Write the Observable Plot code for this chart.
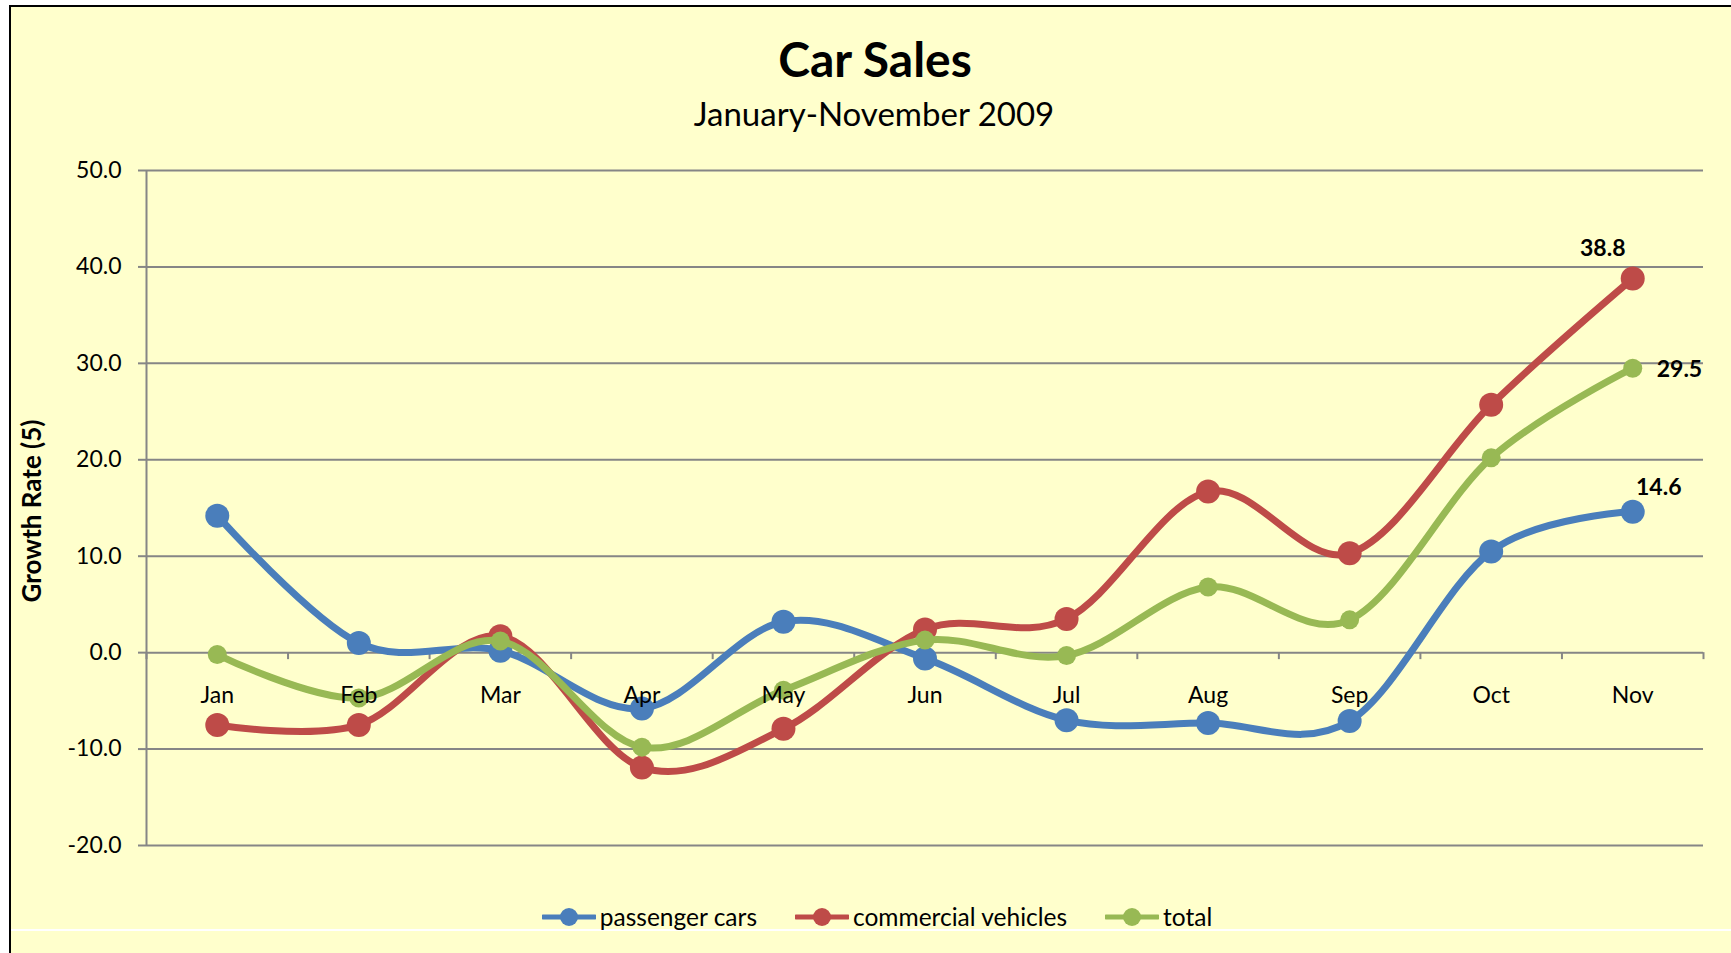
<!DOCTYPE html>
<html>
<head>
<meta charset="utf-8">
<script src="https://cdn.jsdelivr.net/npm/d3@7"></script>
<script src="https://cdn.jsdelivr.net/npm/@observablehq/plot@0.6"></script>
<style>
  html, body { margin: 0; padding: 0; background: #ffffff; }
  body { width: 1731px; height: 953px; overflow: hidden; position: relative; font-family: Lato, "Open Sans", sans-serif; }
  #frame { position: absolute; left: 9px; top: 5px; right: 0; bottom: 0; background: #FFFFCC;
           border-left: 2px solid #000; border-top: 2px solid #000; }
  #sep { position: absolute; left: 11px; right: 0; top: 929px; height: 2px; background: #ffffff; }
  #title { position: absolute; left: 375px; width: 1000px; top: 35px; text-align: center;
           font-weight: bold; font-size: 48px; line-height: 1; color: #000; }
  #subtitle { position: absolute; left: 374px; width: 1000px; top: 97px; text-align: center;
              font-size: 33px; line-height: 1; color: #000; }
  #chart { position: absolute; left: 0; top: 0; }
  #legend { position: absolute; left: 377px; width: 1000px; top: 904px; display: flex;
            justify-content: center; align-items: center; font-size: 24.5px; line-height: 26px; color: #000; }
  .item { display: flex; align-items: center; margin: 0 19px; }
  .item svg { margin-right: 4px; }
</style>
</head>
<body>
<div id="frame"></div>
<div id="sep"></div>
<div id="title">Car Sales</div>
<div id="subtitle">January-November 2009</div>
<div id="chart"></div>
<div id="legend"></div>
<script>
// ---- data ----
const months = ["Jan", "Feb", "Mar", "Apr", "May", "Jun", "Jul", "Aug", "Sep", "Oct", "Nov"];
const passengerCars      = [14.2, 1.0, 0.2, -5.8, 3.2, -0.6, -7.0, -7.3, -7.1, 10.5, 14.6];
const commercialVehicles = [-7.5, -7.5, 1.7, -11.9, -7.9, 2.4, 3.5, 16.7, 10.3, 25.7, 38.8];
const total              = [-0.2, -4.7, 1.2, -9.8, -3.9, 1.3, -0.3, 6.8, 3.4, 20.2, 29.5];
const seriesNames  = ["passenger cars", "commercial vehicles", "total"];
const seriesValues = [passengerCars, commercialVehicles, total];
const seriesColors = ["#4A7EBB", "#BE4B48", "#98B954"];
const yTicks = [-20, -10, 0, 10, 20, 30, 40, 50];
const yLabel = "Growth Rate (5)";

// ---- build table ----
const rows = seriesNames.flatMap((s, k) =>
  seriesValues[k].map((v, i) => ({series: s, i, month: months[i], value: v})));
const monthIdx = months.map((m, i) => ({month: m, i}));
const boundaries = d3.range(months.length + 1).map(k => k - 0.5);
const xDomain = [boundaries[0], boundaries[boundaries.length - 1]];
const yDomain = [yTicks[0], yTicks[yTicks.length - 1]];

const gridColor = "#868686";
const markerR = [12, 12, 9.5];
const labelOpts = [
  {dx: 26, dy: -24, textAnchor: "middle"},
  {dx: -30, dy: -30, textAnchor: "middle"},
  {dx: 24, dy: 1, textAnchor: "start"}
];

const seriesMarks = seriesNames.flatMap((s, k) => {
  const d = rows.filter(r => r.series === s);
  return [
    Plot.line(d, {x: "i", y: "value", stroke: seriesColors[k], strokeWidth: 7, curve: "cardinal"}),
    Plot.dot(d, {x: "i", y: "value", fill: seriesColors[k], r: markerR[k], stroke: "none"})
  ];
});
const labelMarks = seriesNames.map((s, k) => {
  const d = rows.filter(r => r.series === s && r.i === months.length - 1);
  return Plot.text(d, {x: "i", y: "value", text: r => r.value.toFixed(1), fontWeight: "bold",
                       fontSize: 23, fill: "#000", ...labelOpts[k]});
});

const chart = Plot.plot({
  width: 1731,
  height: 953,
  marginLeft: 146,
  marginRight: 28,
  marginTop: 170,
  marginBottom: 108,
  style: {background: "transparent", fontFamily: "Lato, 'Open Sans', sans-serif", overflow: "visible"},
  x: {domain: xDomain, axis: null},
  y: {domain: yDomain, axis: null},
  marks: [
    Plot.ruleY(yTicks, {stroke: gridColor, strokeWidth: 2}),
    Plot.ruleX([xDomain[0]], {stroke: gridColor, strokeWidth: 2}),
    Plot.ruleX(boundaries, {x: d => d, y1: () => 0, y2: () => 0, insetBottom: -7, stroke: gridColor, strokeWidth: 2}),
    Plot.axisY({ticks: yTicks, tickFormat: d => d.toFixed(1), tickSize: 8, tickPadding: 17,
                fontSize: 23, stroke: gridColor, strokeWidth: 2, fill: "#000", label: null}),
    Plot.text([yLabel], {frameAnchor: "left", textAnchor: "middle", rotate: -90, dx: -114, dy: 3,
                         fontWeight: "bold", fontSize: 26, fill: "#000"}),
    ...seriesMarks,
    Plot.text(monthIdx, {x: "i", y: () => 0, text: "month", dy: 43, fontSize: 23, fill: "#000"}),
    ...labelMarks
  ]
});
document.getElementById("chart").appendChild(chart);

// ---- legend ----
const legend = d3.select("#legend");
seriesNames.forEach((s, k) => {
  const item = legend.append("div").attr("class", "item");
  const svg = item.append("svg").attr("width", 54).attr("height", 22);
  svg.append("line").attr("x1", 1).attr("x2", 53).attr("y1", 11).attr("y2", 11)
     .attr("stroke", seriesColors[k]).attr("stroke-width", 5).attr("stroke-linecap", "round");
  svg.append("circle").attr("cx", 27).attr("cy", 11).attr("r", 9).attr("fill", seriesColors[k]);
  item.append("span").text(s);
});
</script>
</body>
</html>
